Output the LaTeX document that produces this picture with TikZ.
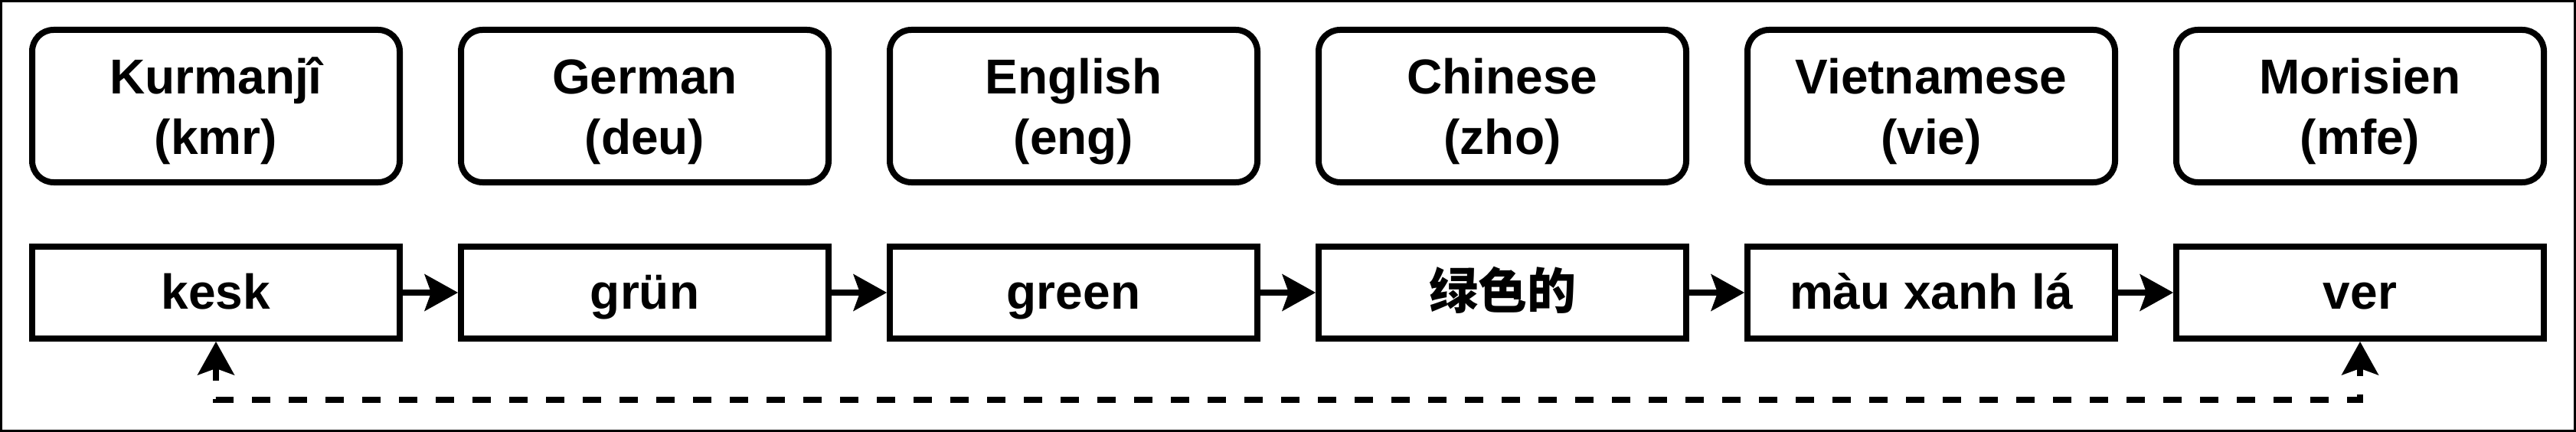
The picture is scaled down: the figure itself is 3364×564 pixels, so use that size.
\documentclass[tikz,border=0pt]{standalone}
\usepackage{fontspec}
\setmainfont{Liberation Sans}
\newfontfamily\cjk{Noto Sans CJK SC}
\usetikzlibrary{arrows.meta}
\newcommand{\toptxt}[2]{\rule{0pt}{62pt}#1\\#2\rule[-14pt]{0pt}{14pt}}
\begin{document}
\begin{tikzpicture}[x=1pt,y=-1pt,
  langbox/.style={draw, line width=8pt, rounded corners=28pt, minimum width=480pt, minimum height=199pt, inner sep=0pt, align=center, font=\fontsize{64}{79}\selectfont\bfseries},
  wordbox/.style={draw, line width=8pt, minimum width=480pt, minimum height=120pt, inner sep=0pt, text height=48pt, text depth=6pt, font=\fontsize{64}{77}\selectfont\bfseries},
  flow/.style={line width=8pt, -{Stealth[length=44pt,width=49pt,inset=9pt,line width=0pt]}},
  backlink/.style={line width=8pt, dash pattern=on 24pt off 24pt, dash phase=8pt, {Stealth[length=44pt,width=49pt,inset=9pt,line width=0pt]}-{Stealth[length=44pt,width=49pt,inset=9pt,line width=0pt]}}
]
\useasboundingbox (0,0) rectangle (3364,564);
\draw[line width=3.3pt] (1.65,1.65) rectangle (3362.35,562.35);

\node[langbox] (l1) at (282,138.5) {\toptxt{Kurmanjî}{(kmr)}};
\node[langbox] (l2) at (842,138.5) {\toptxt{German}{(deu)}};
\node[langbox] (l3) at (1402,138.5) {\toptxt{English}{(eng)}};
\node[langbox] (l4) at (1962,138.5) {\toptxt{Chinese}{(zho)}};
\node[langbox] (l5) at (2522,138.5) {\toptxt{Vietnamese}{(vie)}};
\node[langbox] (l6) at (3082,138.5) {\toptxt{Morisien}{(mfe)}};

\node[wordbox] (w1) at (282,382) {kesk};
\node[wordbox] (w2) at (842,382) {grün};
\node[wordbox] (w3) at (1402,382) {green};
\node[wordbox] (w4) at (1962,382) {\cjk\bfseries 绿色的};
\node[wordbox] (w5) at (2522,382) {màu xanh lá};
\node[wordbox] (w6) at (3082,382) {ver};

\draw[flow] (w1) -- (w2);
\draw[flow] (w2) -- (w3);
\draw[flow] (w3) -- (w4);
\draw[flow] (w4) -- (w5);
\draw[flow] (w5) -- (w6);

\coordinate (dl) at (0,522);
\draw[backlink] (w1.south) -- (w1.south |- dl) -| (w6.south);
\end{tikzpicture}
\end{document}
